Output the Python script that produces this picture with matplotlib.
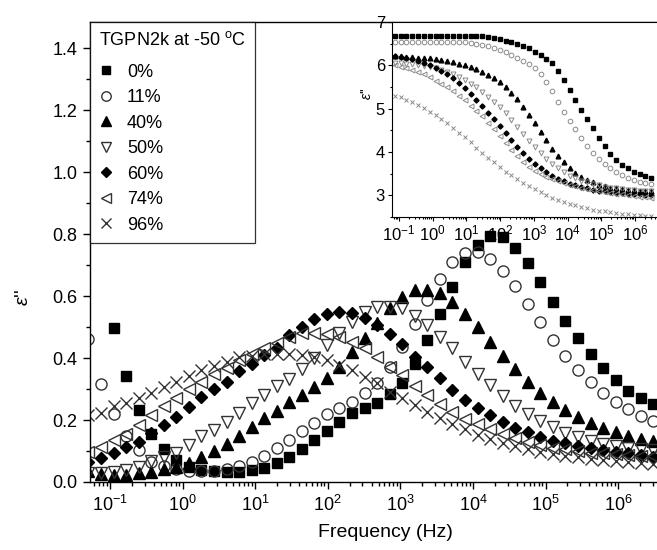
import numpy as np
import matplotlib
matplotlib.use("Agg")
import matplotlib.pyplot as plt
from matplotlib.ticker import MultipleLocator, NullFormatter

plt.rcParams['font.family'] = ['Liberation Sans', 'DejaVu Sans']
plt.rcParams['mathtext.fontset'] = 'custom'
plt.rcParams['mathtext.rm'] = 'Liberation Sans'
plt.rcParams['mathtext.it'] = 'Liberation Sans:italic'
plt.rcParams['mathtext.bf'] = 'Liberation Sans:bold'

# measurement grid, log10(f / Hz)
log_freq = [-1.297, -1.124, -0.951, -0.778, -0.605, -0.432, -0.260, -0.087,
            0.086, 0.259, 0.432, 0.605, 0.778, 0.951, 1.124, 1.297, 1.470,
            1.642, 1.815, 1.988, 2.161, 2.334, 2.507, 2.680, 2.853, 3.026,
            3.199, 3.371, 3.544, 3.717, 3.890, 4.063, 4.236, 4.409, 4.582,
            4.755, 4.928, 5.101, 5.273, 5.446, 5.619, 5.792, 5.965, 6.138,
            6.311, 6.484]
nan = np.nan

labels = ['0%', '11%', '40%', '50%', '60%', '74%', '96%']
decades = [1e-1, 1e0, 1e1, 1e2, 1e3, 1e4, 1e5, 1e6]

# dielectric loss eps'' (main plot)
loss_0 = [nan, nan, 0.497, 0.342, 0.233, 0.155, 0.107, 0.070, 0.050, 0.040, 0.035,
          0.032, 0.033, 0.039, 0.045, 0.062, 0.082, 0.105, 0.135, 0.166, 0.195,
          0.222, 0.238, 0.255, 0.284, 0.320, 0.381, 0.458, 0.542, 0.630, 0.710,
          0.765, 0.795, 0.790, 0.754, 0.705, 0.644, 0.582, 0.521, 0.463, 0.412,
          0.367, 0.328, 0.295, 0.270, 0.251]
loss_11 = [0.460, 0.317, 0.218, 0.150, 0.103, 0.066, 0.053, 0.042, 0.035, 0.034,
           0.036, 0.042, 0.053, 0.066, 0.085, 0.109, 0.135, 0.166, 0.191, 0.218,
           0.240, 0.259, 0.286, 0.318, 0.372, 0.434, 0.509, 0.587, 0.655, 0.710,
           0.739, 0.743, 0.721, 0.682, 0.631, 0.574, 0.516, 0.459, 0.407, 0.362,
           0.321, 0.286, 0.257, 0.234, 0.214, 0.197]
loss_40 = [0.035, 0.025, 0.022, 0.024, 0.028, 0.033, 0.041, 0.050, 0.062, 0.082,
           0.100, 0.122, 0.147, 0.176, 0.205, 0.230, 0.257, 0.281, 0.306, 0.335,
           0.370, 0.418, 0.463, 0.512, 0.562, 0.598, 0.618, 0.620, 0.610, 0.582,
           0.543, 0.499, 0.453, 0.407, 0.366, 0.323, 0.288, 0.259, 0.233, 0.211,
           0.191, 0.175, 0.161, 0.147, 0.139, 0.133]
loss_50 = [0.030, 0.028, 0.033, 0.039, 0.049, 0.069, 0.082, 0.095, 0.119, 0.148,
           0.168, 0.195, 0.222, 0.254, 0.281, 0.310, 0.333, 0.363, 0.400, 0.442,
           0.480, 0.517, 0.549, 0.565, 0.563, 0.560, 0.537, 0.506, 0.468, 0.431,
           0.387, 0.349, 0.313, 0.279, 0.246, 0.220, 0.196, 0.176, 0.159, 0.145,
           0.132, 0.123, 0.116, 0.110, 0.105, 0.102]
loss_60 = [0.063, 0.076, 0.092, 0.114, 0.130, 0.157, 0.184, 0.211, 0.243, 0.273,
           0.299, 0.324, 0.359, 0.381, 0.410, 0.431, 0.474, 0.499, 0.525, 0.542,
           0.547, 0.544, 0.530, 0.507, 0.476, 0.444, 0.404, 0.370, 0.334, 0.297,
           0.265, 0.238, 0.216, 0.195, 0.175, 0.160, 0.146, 0.133, 0.125, 0.117,
           0.109, 0.103, 0.098, 0.092, 0.087, 0.082]
loss_74 = [0.098, 0.114, 0.135, 0.155, 0.184, 0.216, 0.245, 0.270, 0.299, 0.324,
           0.348, 0.367, 0.394, 0.412, 0.432, 0.450, 0.468, 0.480, 0.482, 0.478,
           0.469, 0.453, 0.431, 0.404, 0.372, 0.345, 0.311, 0.280, 0.251, 0.226,
           0.204, 0.187, 0.170, 0.156, 0.143, 0.130, 0.120, 0.111, 0.105, 0.099,
           0.095, 0.092, 0.090, 0.088, 0.085, 0.083]
loss_96 = [0.216, 0.222, 0.245, 0.254, 0.270, 0.286, 0.305, 0.324, 0.342, 0.361,
           0.374, 0.388, 0.402, 0.408, 0.412, 0.413, 0.413, 0.410, 0.402, 0.394,
           0.377, 0.361, 0.340, 0.318, 0.291, 0.272, 0.248, 0.227, 0.205, 0.187,
           0.170, 0.152, 0.138, 0.127, 0.116, 0.105, 0.098, 0.090, 0.084, 0.080,
           0.074, 0.071, 0.069, 0.066, 0.062, 0.058]

# real permittivity (inset)
perm_0 = [6.68, 6.68, 6.68, 6.68, 6.68, 6.68, 6.68, 6.68, 6.68, 6.68, 6.68, 6.68,
          6.68, 6.68, 6.68, 6.68, 6.67, 6.66, 6.63, 6.60, 6.57, 6.53, 6.49, 6.44,
          6.39, 6.31, 6.24, 6.15, 6.05, 5.88, 5.66, 5.42, 5.19, 4.98, 4.76, 4.55,
          4.33, 4.14, 3.96, 3.82, 3.70, 3.62, 3.55, 3.49, 3.44, 3.40]
perm_11 = [6.53, 6.53, 6.53, 6.53, 6.53, 6.53, 6.53, 6.53, 6.53, 6.53, 6.53, 6.53,
           6.53, 6.53, 6.51, 6.49, 6.47, 6.44, 6.40, 6.35, 6.30, 6.24, 6.18, 6.11,
           6.03, 5.93, 5.80, 5.62, 5.40, 5.16, 4.93, 4.72, 4.52, 4.32, 4.14, 3.98,
           3.84, 3.72, 3.62, 3.53, 3.46, 3.40, 3.35, 3.31, 3.28, 3.26]
perm_40 = [6.23, 6.22, 6.21, 6.20, 6.19, 6.18, 6.17, 6.16, 6.14, 6.12, 6.10, 6.07,
           6.04, 6.00, 5.96, 5.91, 5.85, 5.78, 5.70, 5.61, 5.50, 5.37, 5.22, 5.05,
           4.86, 4.66, 4.46, 4.27, 4.08, 3.91, 3.76, 3.63, 3.52, 3.43, 3.36, 3.30,
           3.25, 3.21, 3.18, 3.16, 3.14, 3.13, 3.12, 3.11, 3.10, 3.09]
perm_50 = [6.07, 6.06, 6.05, 6.04, 6.03, 6.01, 5.99, 5.96, 5.93, 5.89, 5.84, 5.79,
           5.73, 5.66, 5.58, 5.49, 5.39, 5.28, 5.16, 5.03, 4.89, 4.74, 4.58, 4.42,
           4.26, 4.11, 3.97, 3.84, 3.72, 3.62, 3.53, 3.45, 3.39, 3.34, 3.30, 3.26,
           3.23, 3.20, 3.18, 3.16, 3.14, 3.13, 3.12, 3.11, 3.10, 3.09]
perm_60 = [6.23, 6.22, 6.20, 6.17, 6.14, 6.10, 6.05, 6.00, 5.94, 5.87, 5.79, 5.70,
           5.60, 5.48, 5.35, 5.21, 5.06, 4.91, 4.76, 4.60, 4.44, 4.28, 4.12, 3.98,
           3.85, 3.73, 3.62, 3.53, 3.45, 3.38, 3.32, 3.27, 3.23, 3.19, 3.16, 3.13,
           3.11, 3.09, 3.07, 3.06, 3.05, 3.04, 3.03, 3.02, 3.01, 3.00]
perm_74 = [6.02, 6.00, 5.97, 5.94, 5.90, 5.85, 5.79, 5.72, 5.65, 5.57, 5.49, 5.40,
           5.30, 5.19, 5.07, 4.95, 4.82, 4.68, 4.53, 4.37, 4.21, 4.05, 3.90, 3.77,
           3.66, 3.57, 3.49, 3.42, 3.37, 3.32, 3.28, 3.24, 3.21, 3.18, 3.15, 3.13,
           3.10, 3.08, 3.06, 3.04, 3.02, 3.00, 2.99, 2.97, 2.96, 2.95]
perm_96 = [5.33, 5.30, 5.26, 5.21, 5.15, 5.08, 5.01, 4.93, 4.85, 4.76, 4.66, 4.56,
           4.45, 4.34, 4.22, 4.10, 3.98, 3.87, 3.76, 3.65, 3.55, 3.46, 3.37, 3.29,
           3.21, 3.14, 3.07, 3.01, 2.95, 2.90, 2.85, 2.81, 2.77, 2.73, 2.70, 2.67,
           2.65, 2.63, 2.61, 2.59, 2.57, 2.56, 2.55, 2.54, 2.53, 2.52]

freq = 10 ** np.array(log_freq)
loss = [loss_0, loss_11, loss_40, loss_50, loss_60, loss_74, loss_96]
perm = [perm_0, perm_11, perm_40, perm_50, perm_60, perm_74, perm_96]

grey = '#8a8a8a'
# marker, size, filled
styles = [('s', 7, True), ('o', 8, False), ('^', 8.5, True), ('v', 8.5, False),
          ('D', 6.5, True), ('<', 8.5, False), ('x', 8, False)]


def log_axis(a, lo, hi):
    a.set_xscale('log')
    a.set_xlim(lo, hi)
    a.set_xticks(decades)
    minors = [m * d for d in [1e-2] + decades for m in range(2, 10)]
    a.set_xticks([v for v in minors if lo < v < hi], minor=True)
    a.xaxis.set_minor_formatter(NullFormatter())


fig = plt.figure(figsize=(6.57, 5.5), dpi=100)
# axes runs a little past the right edge of the picture, as in the source
ax = fig.add_axes([90 / 657, 68 / 550, 590 / 657, 460 / 550])

for y, lab, (m, ms, filled) in zip(loss, labels, styles):
    if filled:
        ax.plot(freq, y, ls='none', marker=m, ms=ms, mfc='black', mec='black', label=lab)
    else:
        ax.plot(freq, y, ls='none', marker=m, ms=ms, mfc='none', mec='#333333',
                mew=1.0, label=lab)

log_axis(ax, 10 ** -1.2755, 10 ** 6.851)
ax.set_ylim(0, 1.484)
ax.yaxis.set_major_locator(MultipleLocator(0.2))
ax.yaxis.set_minor_locator(MultipleLocator(0.1))
ax.yaxis.set_major_formatter(plt.FuncFormatter(lambda v, p: '%.1f' % v))
ax.tick_params(which='both', direction='out', top=False, right=False, labelsize=13,
               width=1)
ax.tick_params(which='major', length=5, pad=4)
ax.tick_params(which='minor', length=3)
ax.spines['right'].set_visible(False)
for s in ax.spines.values():
    s.set_linewidth(1.0)
ax.set_xlabel('Frequency (Hz)', fontsize=14, labelpad=7)
ax.set_ylabel(r"$\varepsilon$''", fontsize=14, rotation=90)
ax.yaxis.set_label_coords(-0.098, 0.40)

leg = ax.legend(loc='upper left', bbox_to_anchor=(0, 1), borderaxespad=0,
                title=r'TGPN2k at -50 $^{\mathrm{o}}$C', fontsize=13,
                title_fontsize=13, frameon=True, fancybox=False,
                handletextpad=0.75, labelspacing=0.47, handlelength=0.8,
                markerscale=0.85, borderpad=0.5)
leg._legend_box.align = 'left'
leg._legend_box.sep = 10.5
leg.get_frame().set_edgecolor('black')
leg.get_frame().set_linewidth(0.9)

# inset: real part
ins = fig.add_axes([392 / 657, 333 / 550, 270 / 657, 195 / 550])
ins.set_facecolor('white')
for y, (m, ms, filled) in zip(perm, styles):
    if filled:
        ins.plot(freq, y, ls='none', marker=m, ms=ms * 0.4, mfc='black', mec='black')
    else:
        ins.plot(freq, y, ls='none', marker=m, ms=ms * 0.42, mfc='none', mec=grey,
                 mew=0.7)
log_axis(ins, 10 ** -1.208, 10 ** 6.804)
ins.set_ylim(2.5, 7)
ins.yaxis.set_major_locator(MultipleLocator(1))
ins.yaxis.set_minor_locator(MultipleLocator(0.5))
ins.tick_params(which='both', direction='out', top=False, right=False, labelsize=12,
                width=0.8)
ins.tick_params(which='major', length=3, pad=2)
ins.tick_params(which='minor', length=1.5)
ins.spines['right'].set_visible(False)
ins.set_ylabel(r"$\varepsilon$''", fontsize=10)
ins.yaxis.set_label_coords(-0.068, 0.63)

fig.savefig('out.png', dpi=100)
